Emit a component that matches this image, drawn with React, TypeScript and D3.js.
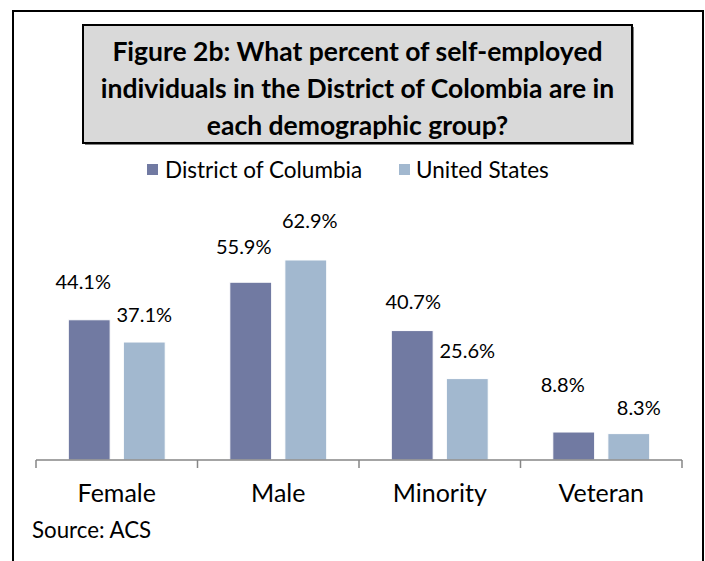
import React from 'react';
import * as d3 from 'd3';

const categories = ['Female', 'Male', 'Minority', 'Veteran'];
const seriesNames = ['District of Columbia', 'United States'];
const dcValues = [44.1, 55.9, 40.7, 8.8];
const usValues = [37.1, 62.9, 25.6, 8.3];
const seriesColors = ['#717aa2', '#a2b8cf'];

// hand-placed data labels in the original (offset from bar top centre)
const dcLabelNudge = [[-6, -31], [-7, -28], [1, -22], [-11, -40]];
const usLabelNudge = [[0, -20], [4, -32], [0, -21], [10, -19]];

const titleLines = [
  'Figure 2b: What percent of self-employed',
  'individuals in the District of Colombia are in',
  'each demographic group?',
];

const W = 705;
const H = 561;
const FONT = 'Lato, "Open Sans", sans-serif';

export default function App() {
  const x = d3.scaleBand<string>().domain(categories).range([36, 682]).paddingInner(0).paddingOuter(0);
  const bw = x.bandwidth();
  const xs = d3.scaleBand<string>().domain(seriesNames).range([bw * 0.2, bw * 0.8]).paddingInner(0.24);
  const y = d3.scaleLinear().domain([0, 70]).range([460, 460 - 70 * 3.18]);

  const series = [
    { name: seriesNames[0], values: dcValues, nudge: dcLabelNudge, color: seriesColors[0] },
    { name: seriesNames[1], values: usValues, nudge: usLabelNudge, color: seriesColors[1] },
  ];

  const ticks = [...categories.map(c => x(c) as number), 682];

  return (
    <div style={{ position: 'absolute', left: 0, top: 0 }}>
      <svg width={W} height={H} style={{ display: 'block', background: '#fff' }} fontFamily={FONT}>
        {/* outer frame */}
        <rect x={13} y={11} width={690} height={620} fill="none" stroke="#000" strokeWidth={2} />

        {/* title box with a small drop shadow */}
        <rect x={85} y={27} width={549} height={118} fill="#808080" />
        <rect x={83} y={25} width={549} height={118} fill="#d9d9d9" stroke="#000" strokeWidth={2} />
        {titleLines.map((t, i) => (
          <text key={i} x={357.5} y={61 + i * 37} textAnchor="middle" fontSize={26.5} fontWeight="bold" fill="#000">
            {t}
          </text>
        ))}

        {/* legend */}
        <rect x={147} y={164} width={11} height={11} fill={seriesColors[0]} />
        <text x={165} y={178} fontSize={22.5} fill="#000">{seriesNames[0]}</text>
        <rect x={399} y={164} width={11} height={11} fill={seriesColors[1]} />
        <text x={416} y={178} fontSize={22.5} fill="#000">{seriesNames[1]}</text>

        {/* bars */}
        {series.map(s =>
          categories.map((c, i) => {
            const bx = (x(c) as number) + (xs(s.name) as number);
            const by = y(s.values[i]);
            return (
              <g key={s.name + c}>
                <rect x={bx} y={by} width={xs.bandwidth()} height={y(0) - by} fill={s.color} stroke="#fff" strokeWidth={1} />
                <text
                  x={bx + xs.bandwidth() / 2 + s.nudge[i][0]}
                  y={by + s.nudge[i][1]}
                  textAnchor="middle"
                  fontSize={20}
                  fill="#000"
                >
                  {s.values[i].toFixed(1)}%
                </text>
              </g>
            );
          })
        )}

        {/* axis */}
        <line x1={36} x2={682} y1={y(0)} y2={y(0)} stroke="#868686" strokeWidth={1.5} />
        {ticks.map((t, i) => (
          <line key={i} x1={t} x2={t} y1={y(0)} y2={y(0) + 8} stroke="#868686" strokeWidth={1.5} />
        ))}
        {categories.map(c => (
          <text key={c} x={(x(c) as number) + bw / 2} y={502} textAnchor="middle" fontSize={25} fill="#000">
            {c}
          </text>
        ))}

        <text x={32} y={538} fontSize={22.3} fill="#000">Source: ACS</text>
      </svg>
    </div>
  );
}
